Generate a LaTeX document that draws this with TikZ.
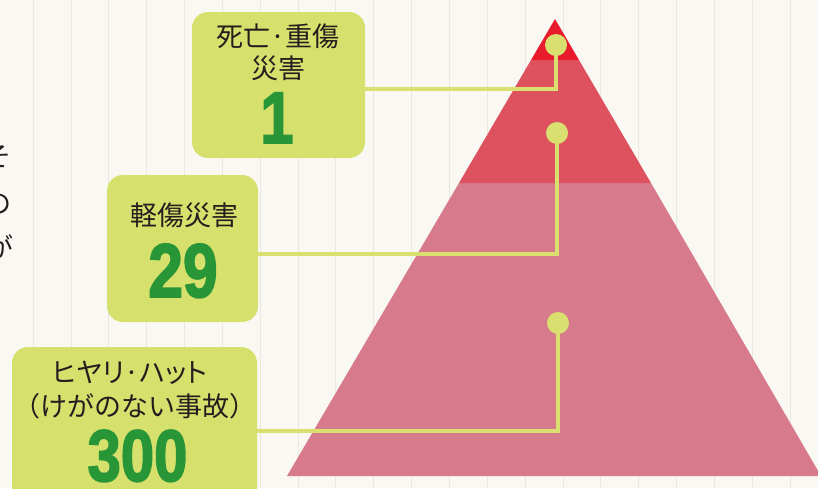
\documentclass[tikz,border=0pt]{standalone}
\usepackage{fontspec}
\usepackage{graphicx}
\newfontfamily\jp{Noto Sans CJK JP}
\newfontfamily\jpp[RawFeature=+palt]{Noto Sans CJK JP}
\newfontfamily\digitfont[FakeBold=2.5]{Liberation Sans Bold}
\definecolor{bgpaper}{RGB}{250,248,243}
\definecolor{ruleline}{RGB}{236,231,220}
\definecolor{limebox}{RGB}{214,224,108}
\definecolor{limedot}{RGB}{218,224,112}
\definecolor{pyrtop}{RGB}{232,28,44}
\definecolor{pyrmid}{RGB}{222,82,96}
\definecolor{pyrlow}{RGB}{214,122,140}
\definecolor{numgreen}{RGB}{40,150,55}
\definecolor{inktext}{RGB}{35,30,30}
\tikzset{
  labelbox/.style={fill=limebox, rounded corners=16pt, inner sep=0pt},
  dotnode/.style={circle, fill=limedot, minimum size=22pt, inner sep=0pt},
  conn/.style={draw=limedot, line width=4pt},
  jtext/.style={anchor=base, inner sep=0pt, text=inktext, font=\jp\fontsize{27}{32}\selectfont},
  bignum/.style={anchor=base, inner sep=0pt, text=numgreen, font=\digitfont\fontsize{73}{80}\selectfont},
}
\begin{document}
\begin{tikzpicture}[x=1pt,y=-1pt]
\useasboundingbox (0,0) rectangle (818,488);
\fill[bgpaper] (0,0) rectangle (818,488);
\foreach \k in {0,...,20} {
  \draw[ruleline, line width=0.7pt] ({33+37.85*\k},0) -- ({33+37.85*\k},488);
}
\begin{scope}
\clip (0,0) rectangle (818,488);
% cut-off body text at left edge
\node[jtext, anchor=base east] (f1) at (12,166) {そ};
\node[jtext, anchor=base east] (f2) at (12,213) {の};
\node[jtext, anchor=base east] (f3) at (14,257) {が};
% pyramid
\coordinate (apex) at (555,19);
\coordinate (l1) at (531,60);
\coordinate (r1) at (579,60);
\coordinate (l2) at (459,183);
\coordinate (r2) at (651,183);
\coordinate (bl) at (287,476);
\coordinate (br) at (821,476);
\fill[pyrlow] (l2) -- (r2) -- (br) -- (bl) -- cycle;
\fill[pyrmid] (l1) -- (r1) -- (r2) -- (l2) -- cycle;
\fill[pyrtop] (apex) -- (r1) -- (l1) -- cycle;
% boxes
\node[labelbox, minimum width=173pt, minimum height=146pt] (b1) at (278.5,85) {};
\node[labelbox, minimum width=151pt, minimum height=147pt] (b2) at (182.5,248.5) {};
\node[labelbox, minimum width=245pt, minimum height=168pt] (b3) at (134.5,431) {};
% dots
\node[dotnode] (c1) at (556,45) {};
\node[dotnode] (c2) at (557,133) {};
\node[dotnode] (c3) at (558,323) {};
% connectors
\draw[conn] (c1.center) |- ([yshift=-4pt]b1.east);
\draw[conn] (c2.center) |- ([yshift=-5.5pt]b2.east);
\draw[conn] (c3.center) |- (b3.east);
% texts
\node[jtext, font=\jpp\fontsize{27}{32}\selectfont] (t1a) at (278,46) {死亡·重傷};
\node[jtext] (t1b) at (278,78) {災害};
\node[bignum] (n1) at (277,143) {\scalebox{0.82}[1]{1}};
\node[jtext] (t2a) at (184,225) {軽傷災害};
\node[bignum, font=\digitfont\fontsize{76}{80}\selectfont] (n2) at (183,297) {\scalebox{0.82}[1]{29}};
\node[jtext, font=\jpp\fontsize{27}{32}\selectfont] (t3a) at (130,382) {ヒヤリ·ハット};
\node[jtext] (t3b) at (135,416) {（けがのない事故）};
\node[bignum] (n3) at (137.5,481) {\scalebox{0.82}[1]{300}};
\end{scope}
\end{tikzpicture}
\end{document}
